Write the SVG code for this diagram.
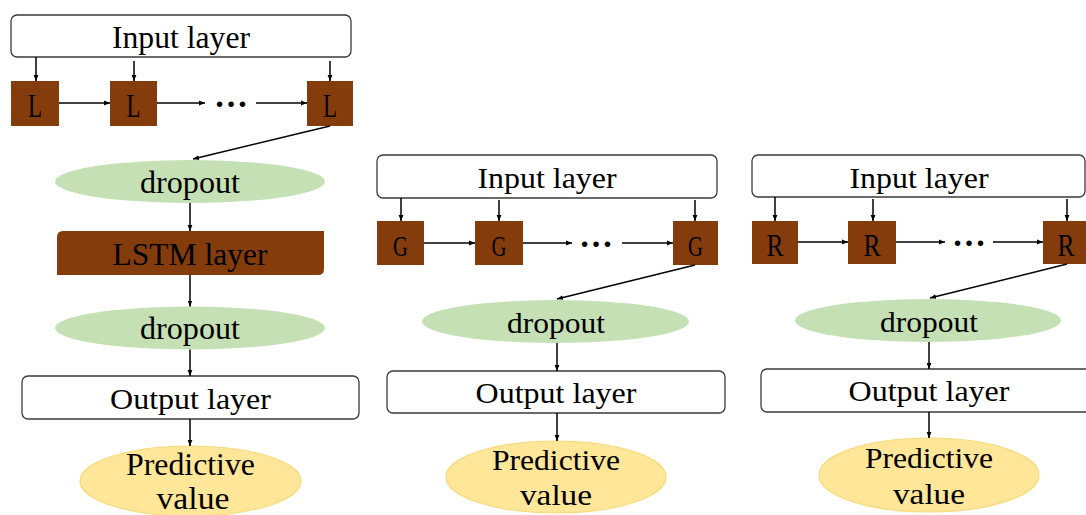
<svg xmlns="http://www.w3.org/2000/svg" width="1086" height="515" viewBox="0 0 1086 515">
<defs>
<marker id="ah" viewBox="0 0 10 10" refX="10" refY="5" markerWidth="6" markerHeight="6" markerUnits="userSpaceOnUse" orient="auto">
<path d="M0,1 L10,5 L0,9 z" fill="#000"/>
</marker>
</defs>
<style>
.box{fill:#fff;stroke:#3a3a3a;stroke-width:1.3}
.cell{fill:#843C0C}
.drop{fill:#C5E0B4}
.pred{fill:#FFE699;stroke:#F9D97A;stroke-width:1.2}
.t{font-family:"Liberation Serif","Times New Roman",Times,serif;fill:#000;text-anchor:middle}
.dots{font-family:"Liberation Serif","Times New Roman",Times,serif;fill:#000;text-anchor:middle;font-weight:bold;font-size:34px}
.ln{stroke:#000;stroke-width:1.5;fill:none;marker-end:url(#ah)}
</style>
<rect width="1086" height="515" fill="#fff"/>

<!-- Panel 1: LSTM -->
<g id="p1-input"><rect class="box" x="11" y="15" width="340" height="42" rx="6"/><text class="t" x="181" y="48" font-size="32" textLength="138" lengthAdjust="spacingAndGlyphs">Input layer</text></g>
<g id="p1-L1"><rect class="cell" x="11" y="81" width="48" height="45"/><text class="t" x="35" y="117" font-size="34" textLength="14" lengthAdjust="spacingAndGlyphs">L</text></g>
<g id="p1-L2"><rect class="cell" x="110" y="81" width="47" height="45"/><text class="t" x="133.5" y="117" font-size="34" textLength="14" lengthAdjust="spacingAndGlyphs">L</text></g>
<g id="p1-L3"><rect class="cell" x="307" y="81" width="46" height="45"/><text class="t" x="330" y="117" font-size="34" textLength="14" lengthAdjust="spacingAndGlyphs">L</text></g>
<g id="p1-dots"><text class="dots" x="231" y="107">…</text></g>
<g id="p1-drop1"><ellipse class="drop" cx="190" cy="181.5" rx="135" ry="21.5"/><text class="t" x="190" y="193" font-size="31" textLength="100" lengthAdjust="spacingAndGlyphs">dropout</text></g>
<g id="p1-lstm"><path class="cell" d="M63,231 H324 V269 Q324,275 318,275 H57 V237 Q57,231 63,231 Z"/><text class="t" x="190" y="265" font-size="31" textLength="155" lengthAdjust="spacingAndGlyphs">LSTM layer</text></g>
<g id="p1-drop2"><ellipse class="drop" cx="190" cy="328" rx="135" ry="21.5"/><text class="t" x="190" y="339" font-size="31" textLength="100" lengthAdjust="spacingAndGlyphs">dropout</text></g>
<g id="p1-output"><rect class="box" x="22" y="376" width="337" height="43" rx="6"/><text class="t" x="190.5" y="409" font-size="30" textLength="161" lengthAdjust="spacingAndGlyphs">Output layer</text></g>
<g id="p1-pred"><ellipse class="pred" cx="190.5" cy="481" rx="110.5" ry="35"/><text class="t" x="190.5" y="475" font-size="31" textLength="129" lengthAdjust="spacingAndGlyphs">Predictive</text><text class="t" x="193" y="509" font-size="31" textLength="73" lengthAdjust="spacingAndGlyphs">value</text></g>

<!-- Panel 2: GRU -->
<g id="p2-input"><rect class="box" x="377" y="155" width="340" height="43" rx="6"/><text class="t" x="547" y="188" font-size="29" textLength="139" lengthAdjust="spacingAndGlyphs">Input layer</text></g>
<g id="p2-G1"><rect class="cell" x="377" y="221" width="47" height="44"/><text class="t" x="400.5" y="256" font-size="30" textLength="15" lengthAdjust="spacingAndGlyphs">G</text></g>
<g id="p2-G2"><rect class="cell" x="475" y="221" width="48" height="44"/><text class="t" x="499" y="256" font-size="30" textLength="15" lengthAdjust="spacingAndGlyphs">G</text></g>
<g id="p2-G3"><rect class="cell" x="673" y="221" width="45" height="44"/><text class="t" x="695.5" y="256" font-size="30" textLength="15" lengthAdjust="spacingAndGlyphs">G</text></g>
<g id="p2-dots"><text class="dots" x="596" y="247">…</text></g>
<g id="p2-drop"><ellipse class="drop" cx="555.5" cy="321.5" rx="133.5" ry="21.5"/><text class="t" x="556" y="333" font-size="29" textLength="98" lengthAdjust="spacingAndGlyphs">dropout</text></g>
<g id="p2-output"><rect class="box" x="387" y="371" width="338" height="42" rx="6"/><text class="t" x="556" y="403" font-size="29" textLength="161" lengthAdjust="spacingAndGlyphs">Output layer</text></g>
<g id="p2-pred"><ellipse class="pred" cx="556" cy="477" rx="110" ry="36"/><text class="t" x="556" y="470" font-size="30" textLength="128" lengthAdjust="spacingAndGlyphs">Predictive</text><text class="t" x="556" y="505" font-size="30" textLength="72" lengthAdjust="spacingAndGlyphs">value</text></g>

<!-- Panel 3: RNN -->
<g id="p3-input"><rect class="box" x="752" y="155" width="333" height="42" rx="6"/><text class="t" x="919" y="188" font-size="29" textLength="139" lengthAdjust="spacingAndGlyphs">Input layer</text></g>
<g id="p3-R1"><rect class="cell" x="752" y="221" width="46" height="43"/><text class="t" x="775" y="256" font-size="31" textLength="17" lengthAdjust="spacingAndGlyphs">R</text></g>
<g id="p3-R2"><rect class="cell" x="848" y="221" width="48" height="43"/><text class="t" x="872" y="256" font-size="31" textLength="17" lengthAdjust="spacingAndGlyphs">R</text></g>
<g id="p3-R3"><rect class="cell" x="1043" y="221" width="46" height="43"/><text class="t" x="1066" y="256" font-size="31" textLength="17" lengthAdjust="spacingAndGlyphs">R</text></g>
<g id="p3-dots"><text class="dots" x="969" y="246">…</text></g>
<g id="p3-drop"><ellipse class="drop" cx="928" cy="320.5" rx="133" ry="21.5"/><text class="t" x="929" y="332" font-size="29" textLength="98" lengthAdjust="spacingAndGlyphs">dropout</text></g>
<g id="p3-output"><rect class="box" x="761" y="369" width="336" height="43" rx="6"/><text class="t" x="929" y="401" font-size="29" textLength="161" lengthAdjust="spacingAndGlyphs">Output layer</text></g>
<g id="p3-pred"><ellipse class="pred" cx="929" cy="475" rx="110" ry="37"/><text class="t" x="929" y="468" font-size="30" textLength="128" lengthAdjust="spacingAndGlyphs">Predictive</text><text class="t" x="929" y="504" font-size="30" textLength="72" lengthAdjust="spacingAndGlyphs">value</text></g>

<g id="connectors">
<!-- panel 1 -->
<line class="ln" x1="36" y1="57" x2="36" y2="81"/>
<line class="ln" x1="134" y1="61" x2="134" y2="81"/>
<line class="ln" x1="330" y1="61" x2="330" y2="81"/>
<line class="ln" x1="59" y1="103" x2="110" y2="103"/>
<line class="ln" x1="157" y1="103" x2="205" y2="103"/>
<line class="ln" x1="256" y1="103" x2="307" y2="103"/>
<line class="ln" x1="330" y1="126" x2="193" y2="159"/>
<line class="ln" x1="190" y1="203" x2="190" y2="231"/>
<line class="ln" x1="190" y1="275" x2="190" y2="306.5"/>
<line class="ln" x1="190" y1="349.5" x2="190" y2="376"/>
<line class="ln" x1="190" y1="419" x2="190" y2="446"/>
<!-- panel 2 -->
<line class="ln" x1="401" y1="198" x2="401" y2="221"/>
<line class="ln" x1="499" y1="200" x2="499" y2="221"/>
<line class="ln" x1="695" y1="200" x2="695" y2="221"/>
<line class="ln" x1="424" y1="243" x2="475" y2="243"/>
<line class="ln" x1="523" y1="243" x2="572" y2="243"/>
<line class="ln" x1="622" y1="243" x2="673" y2="243"/>
<line class="ln" x1="695" y1="265" x2="557" y2="299"/>
<line class="ln" x1="557" y1="343" x2="557" y2="371"/>
<line class="ln" x1="557" y1="413" x2="557" y2="441"/>
<!-- panel 3 -->
<line class="ln" x1="775" y1="197" x2="775" y2="221"/>
<line class="ln" x1="873" y1="199" x2="873" y2="221"/>
<line class="ln" x1="1067" y1="199" x2="1067" y2="221"/>
<line class="ln" x1="798" y1="242" x2="848" y2="242"/>
<line class="ln" x1="896" y1="242" x2="945" y2="242"/>
<line class="ln" x1="993" y1="242" x2="1043" y2="242"/>
<line class="ln" x1="1067" y1="264" x2="930" y2="298"/>
<line class="ln" x1="929" y1="342" x2="929" y2="369"/>
<line class="ln" x1="929" y1="412" x2="929" y2="438"/>
</g>
</svg>
